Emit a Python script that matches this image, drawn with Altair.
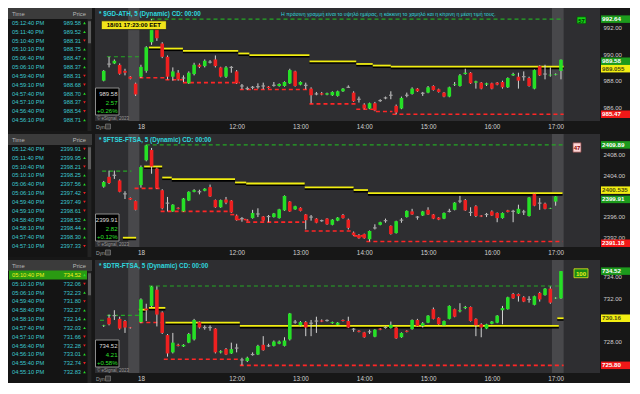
import altair as alt
import numpy as np
import pandas as pd

# ---------------- shared axis data ----------------
TICK_POS = [0, 18, 30, 42, 54, 66, 78]
TICK_LAB = ["18", "12:00", "13:00", "14:00", "15:00", "16:00", "17:00"]
X_DOMAIN = [-7.7, 85.4]
SHADE_START = [-2.4, 77.3]
SHADE_END = [-0.3, 79.5]

# ---------------- $GD-ATH ----------------
GD_IDX = [-7, -6, -5, -4, -3, -2, -1] + list(range(80))
GD_OPEN = [988.00, 989.25, 989.30, 989.19, 988.74, 988.30, 987.78,
           988.30, 988.74, 990.90, 992.00, 990.80, 989.80, 988.30, 988.60, 988.20, 987.80,
           988.50, 989.20, 989.10, 989.40, 989.60, 989.00, 988.30, 989.00, 988.70, 987.60,
           987.40, 987.50, 987.55, 987.60, 987.55, 987.65, 987.60, 987.60, 987.80, 988.70,
           987.70, 987.65, 987.40, 987.00, 987.05, 986.95, 986.90, 986.85, 987.20, 987.50,
           987.10, 986.60, 986.20, 985.90, 986.30, 986.50, 986.70, 986.90, 986.10, 985.90,
           986.90, 987.00, 987.40, 987.05, 987.10, 987.60, 987.35, 987.10, 986.80, 987.70,
           987.60, 988.50, 988.60, 987.85, 987.85, 987.70, 987.80, 987.85, 987.90, 987.50,
           988.40, 988.30, 988.30, 988.20, 987.40, 989.10, 988.50, 988.40, 988.45, 988.74]
GD_HIGH = [988.80, 989.80, 989.60, 989.30, 988.90, 988.35, 987.85,
           989.20, 990.60, 992.64, 992.40, 990.90, 989.90, 989.00, 988.80, 988.40, 988.70,
           989.35, 989.30, 989.60, 989.55, 989.90, 989.05, 989.10, 989.10, 988.80, 987.75,
           987.55, 987.60, 987.80, 987.85, 987.60, 987.90, 987.80, 987.95, 988.90, 988.75,
           987.95, 987.85, 987.50, 987.15, 987.15, 987.10, 987.20, 987.25, 987.45, 987.65,
           987.20, 986.80, 986.30, 986.35, 986.40, 986.60, 986.80, 987.20, 986.20, 986.80,
           987.10, 987.50, 987.45, 987.15, 987.60, 987.65, 987.40, 987.15, 987.55, 987.90,
           988.50, 988.90, 988.65, 988.00, 987.90, 987.85, 987.85, 987.90, 988.00, 988.25,
           988.60, 988.60, 988.70, 988.30, 988.85, 989.15, 989.20, 989.00, 988.55, 989.60]
GD_LOW = [987.95, 989.00, 989.25, 988.45, 988.40, 988.10, 986.85,
          988.20, 988.60, 990.70, 991.00, 989.70, 988.10, 988.00, 988.00, 987.90, 987.75,
          988.40, 988.95, 989.00, 989.30, 989.00, 988.25, 988.20, 988.60, 987.75, 987.35,
          987.30, 987.35, 987.40, 987.35, 987.40, 987.55, 987.55, 987.55, 987.75, 987.55,
          987.65, 987.35, 986.30, 986.90, 986.90, 986.90, 986.85, 986.80, 987.15, 987.45,
          986.40, 986.35, 985.85, 985.85, 985.70, 986.40, 986.60, 986.60, 985.47, 985.85,
          986.75, 986.95, 987.15, 986.85, 987.05, 987.25, 987.10, 986.75, 986.75, 987.60,
          987.55, 988.45, 987.75, 987.40, 987.35, 987.60, 987.35, 987.65, 987.40, 987.45,
          988.35, 987.40, 988.00, 987.55, 987.35, 988.35, 988.10, 988.30, 988.40, 988.10]
GD_CLOSE = [988.74, 989.25, 989.50, 988.52, 988.60, 988.15, 986.96,
            989.04, 990.52, 992.10, 991.20, 989.80, 988.30, 988.70, 988.10, 988.20, 988.60,
            989.20, 989.05, 989.50, 989.40, 989.10, 988.30, 989.00, 989.00, 987.80, 987.60,
            987.40, 987.50, 987.55, 987.60, 987.45, 987.65, 987.75, 987.90, 988.80, 987.60,
            987.90, 987.65, 986.90, 987.00, 986.95, 987.05, 987.15, 987.20, 987.40, 987.50,
            986.45, 986.60, 985.90, 986.30, 985.75, 986.50, 986.70, 986.90, 985.60, 986.70,
            986.90, 987.40, 987.20, 987.05, 987.50, 987.30, 987.15, 986.80, 987.50, 987.75,
            988.40, 988.60, 987.80, 987.95, 987.40, 987.80, 987.40, 987.70, 987.50, 988.20,
            988.50, 988.00, 988.30, 987.60, 988.80, 988.40, 988.50, 988.45, 988.50, 989.58]
GD_HI_S = [-6.4, 1.8]
GD_HI_E = [-0.3, 79.5]
GD_HI_V = [989.80, 992.64]
GD_LO_S = [-0.3, 4.6, 7.9, 18.6, 31.7, 40.5, 44.2, 47.3]
GD_LO_E = [4.6, 7.9, 18.6, 31.7, 40.5, 44.2, 47.3, 79.5]
GD_LO_V = [988.22, 988.07, 987.85, 987.33, 986.25, 985.85, 985.68, 985.47]
GD_AV_S = [1.5, 4.0, 7.9, 18.3, 20.4, 31.7, 40.5, 43.6, 47.0]
GD_AV_E = [4.0, 7.9, 18.3, 20.4, 31.7, 40.5, 43.6, 47.0, 79.5]
GD_AV_V = [990.50, 990.42, 990.25, 990.05, 989.93, 989.46, 989.26, 989.14, 989.055]
GD_YDOM = [984.96, 993.48]
GD_YTICKS = [986, 988, 990, 992]
GD_MARK_V = [992.64, 989.58, 989.055, 985.47]
GD_MARK_L = ["992.64", "989.58", "989.055", "985.47"]
GD_MARK_K = ["high", "last", "avg", "low"]
GD_INFO = ["989.58", "2.57", "+0.26%"]

# ---------------- $FTSE-FTSA ----------------
FT_IDX = [-7, -6, -5, -4, -3, -2, -1] + list(range(79))
FT_OPEN = [2401.8, 2403.7, 2404.0, 2403.0, 2400.4, 2399.6, 2399.0,
           2402.1, 2406.9, 2408.9, 2405.3, 2401.1, 2398.6, 2397.0, 2397.7, 2397.0, 2399.1,
           2400.8, 2400.8, 2401.0, 2401.7, 2399.2, 2397.8, 2399.3, 2399.1, 2396.2, 2395.6,
           2395.4, 2395.7, 2396.5, 2396.0, 2396.0, 2395.9, 2395.7, 2397.2, 2398.9, 2397.4,
           2397.7, 2396.4, 2395.9, 2395.6, 2395.2, 2395.6, 2394.4, 2395.2, 2396.3, 2395.4,
           2392.9, 2392.4, 2392.6, 2391.6, 2393.8, 2394.4, 2395.2, 2394.2, 2392.8, 2395.3,
           2395.9, 2397.0, 2395.9, 2396.2, 2397.3, 2396.4, 2395.8, 2395.6, 2397.0, 2397.3,
           2399.0, 2399.2, 2396.8, 2398.0, 2396.2, 2396.4, 2397.0, 2396.7, 2395.7, 2397.2,
           2397.0, 2396.6, 2396.9, 2396.1, 2400.4, 2398.6, 2398.5, 2397.55, 2398.9]
FT_HIGH = [2402.9, 2404.9, 2404.9, 2403.2, 2400.9, 2399.7, 2399.1,
           2405.9, 2409.89, 2409.3, 2405.5, 2401.3, 2399.8, 2398.4, 2397.8, 2399.6, 2400.9,
           2401.3, 2401.2, 2401.5, 2402.2, 2399.3, 2399.3, 2399.8, 2399.2, 2396.4, 2395.9,
           2395.5, 2397.3, 2397.6, 2396.1, 2396.3, 2396.7, 2397.5, 2400.1, 2399.0, 2398.1,
           2397.8, 2396.5, 2396.3, 2395.7, 2395.4, 2395.7, 2395.5, 2395.9, 2396.5, 2395.6,
           2393.1, 2392.6, 2392.7, 2393.3, 2394.5, 2395.0, 2395.6, 2394.3, 2395.2, 2395.7,
           2397.2, 2397.5, 2396.1, 2397.1, 2397.8, 2396.5, 2395.9, 2396.8, 2397.5, 2398.8,
           2400.0, 2399.4, 2397.8, 2398.2, 2396.3, 2396.7, 2397.2, 2396.8, 2396.8, 2397.3,
           2397.3, 2398.3, 2397.3, 2399.8, 2400.5, 2399.6, 2398.7, 2397.7, 2399.95]
FT_LOW = [2401.6, 2402.3, 2403.3, 2400.7, 2399.4, 2399.2, 2397.2,
          2401.6, 2406.7, 2404.3, 2401.4, 2397.4, 2397.0, 2396.9, 2397.4, 2396.9, 2399.0,
          2400.7, 2400.3, 2400.9, 2399.8, 2397.7, 2397.7, 2398.4, 2396.7, 2395.2, 2395.0,
          2395.1, 2395.6, 2395.9, 2395.1, 2394.9, 2395.8, 2395.6, 2397.1, 2396.9, 2397.3,
          2397.0, 2393.5, 2395.2, 2394.7, 2395.0, 2394.4, 2394.3, 2395.1, 2395.6, 2393.5,
          2392.3, 2391.7, 2391.7, 2391.18, 2393.5, 2394.3, 2394.8, 2392.5, 2392.7, 2394.8,
          2395.8, 2396.3, 2395.4, 2396.1, 2396.3, 2395.5, 2395.3, 2395.5, 2396.8, 2397.2,
          2398.6, 2397.1, 2396.1, 2395.9, 2395.9, 2395.9, 2396.1, 2394.9, 2395.6, 2396.8,
          2394.9, 2396.5, 2396.3, 2396.0, 2398.0, 2397.3, 2397.4, 2397.5, 2398.1]
FT_CLOSE = [2402.7, 2402.5, 2404.0, 2400.8, 2400.4, 2399.3, 2397.3,
            2405.6, 2409.8, 2405.7, 2401.5, 2397.6, 2398.6, 2398.3, 2397.5, 2399.5, 2400.8,
            2401.1, 2400.8, 2401.4, 2399.9, 2397.8, 2399.2, 2398.7, 2396.8, 2395.3, 2395.6,
            2395.2, 2396.7, 2396.5, 2395.2, 2396.0, 2396.6, 2397.4, 2400.0, 2397.0, 2398.0,
            2397.1, 2395.3, 2395.9, 2394.8, 2395.2, 2394.5, 2395.4, 2395.8, 2395.7, 2393.8,
            2392.4, 2391.8, 2391.8, 2393.2, 2393.8, 2394.9, 2395.2, 2392.6, 2395.1, 2395.3,
            2397.1, 2396.4, 2395.9, 2397.0, 2396.4, 2395.6, 2395.4, 2396.7, 2397.0, 2398.7,
            2399.0, 2397.2, 2396.8, 2396.1, 2396.0, 2396.4, 2396.2, 2395.7, 2396.7, 2396.9,
            2397.0, 2397.5, 2396.9, 2399.7, 2398.1, 2398.6, 2397.5, 2397.65, 2399.91]
FT_HI_S = [-7.3, 0.9]
FT_HI_E = [-1.8, 79.3]
FT_HI_V = [2404.8, 2409.89]
FT_LO_S = [-1.2, 3.7, 16.8, 18.0, 19.8, 30.8, 40.0, 42.4]
FT_LO_E = [3.7, 16.8, 18.0, 19.8, 30.8, 40.0, 42.4, 79.3]
FT_LO_V = [2401.46, 2397.0, 2396.38, 2395.43, 2394.92, 2393.2, 2392.25, 2391.18]
FT_AV_S = [-3.4, 0.6, 4.0, 5.8, 17.7, 19.8, 30.8, 40.0, 42.7]
FT_AV_E = [-0.9, 4.0, 5.8, 17.7, 19.8, 30.8, 40.0, 42.7, 79.3]
FT_AV_V = [2391.9, 2405.7, 2403.56, 2403.24, 2402.6, 2402.41, 2401.65, 2401.14, 2400.535]
FT_YDOM = [2390.1, 2412.0]
FT_YTICKS = [2392, 2396, 2404, 2408]
FT_MARK_V = [2409.89, 2400.535, 2399.91, 2391.18]
FT_MARK_L = ["2409.89", "2400.535", "2399.91", "2391.18"]
FT_MARK_K = ["high", "avg", "last", "low"]
FT_INFO = ["2399.91", "2.82", "+0.12%"]

# ---------------- $DTR-FTSA ----------------
DT_IDX = [-7, -6, -5, -4, -3, -2] + list(range(80))
DT_OPEN = [729.45, 730.20, 730.40, 730.10, 729.90, 729.30,
           729.80, 731.05, 731.30, 732.80, 730.70, 728.60, 727.00, 727.70, 727.55, 727.90,
           728.20, 729.80, 729.30, 729.30, 729.20, 727.00, 727.30, 726.90, 727.40, 726.30,
           726.20, 726.80, 726.80, 727.70, 727.60, 727.60, 727.80, 727.60, 728.20, 729.80,
           729.50, 729.80, 729.70, 729.90, 729.95, 729.95, 729.70, 729.55, 730.00, 729.90,
           729.15, 729.00, 728.85, 728.90, 728.45, 729.20, 729.30, 729.25, 729.30, 728.40,
           729.00, 729.15, 730.00, 729.45, 729.75, 731.00, 730.20, 729.50, 730.10, 731.00,
           730.80, 731.10, 731.20, 730.10, 729.60, 729.20, 729.65, 729.75, 730.90, 731.00,
           732.40, 732.40, 732.10, 731.90, 731.40, 732.50, 732.30, 732.90, 732.00, 732.00]
DT_HIGH = [729.55, 730.50, 730.90, 730.30, 730.00, 729.35,
           732.00, 731.50, 733.15, 733.10, 730.80, 728.70, 728.80, 727.80, 727.75, 728.80,
           730.10, 729.85, 729.50, 729.50, 729.25, 727.20, 727.40, 727.90, 727.80, 726.50,
           726.60, 727.00, 727.70, 728.50, 727.80, 728.10, 728.10, 728.40, 730.65, 730.00,
           729.90, 729.90, 730.00, 730.30, 730.05, 730.05, 729.85, 729.80, 730.05, 730.30,
           729.25, 729.05, 728.90, 729.10, 729.15, 729.25, 729.40, 729.85, 729.35, 728.85,
           729.05, 730.05, 730.10, 729.80, 730.45, 731.15, 730.25, 729.95, 731.35, 731.05,
           731.55, 731.30, 731.25, 730.15, 729.70, 729.65, 729.90, 730.45, 731.30, 732.15,
           732.50, 732.45, 732.20, 732.20, 732.25, 732.60, 732.95, 733.10, 732.10, 734.52]
DT_LOW = [729.35, 729.50, 730.00, 729.10, 728.80, 729.20,
          729.70, 729.90, 731.20, 729.40, 728.70, 726.60, 726.90, 727.55, 727.50, 727.85,
          728.10, 729.20, 729.10, 729.00, 726.90, 726.90, 726.75, 726.85, 727.00, 725.80,
          726.10, 726.70, 726.75, 727.15, 727.50, 727.55, 727.75, 727.55, 728.10, 729.65,
          729.40, 728.50, 728.50, 728.80, 729.80, 729.85, 729.65, 729.50, 729.85, 729.25,
          728.90, 728.85, 728.35, 728.70, 728.40, 729.05, 729.20, 729.20, 728.25, 728.35,
          728.85, 729.10, 729.40, 729.30, 729.70, 730.05, 729.55, 729.45, 730.05, 730.25,
          730.70, 731.00, 729.85, 728.50, 728.40, 729.15, 729.60, 729.70, 729.60, 730.95,
          731.95, 731.70, 731.65, 731.60, 731.35, 731.70, 732.25, 731.50, 731.95, 731.95]
DT_CLOSE = [729.50, 729.60, 730.40, 729.20, 729.30, 729.25,
            731.90, 730.90, 733.10, 730.50, 728.80, 726.90, 727.90, 727.60, 727.70, 728.70,
            730.00, 729.30, 729.30, 729.30, 727.00, 727.10, 726.80, 727.30, 727.40, 726.30,
            726.50, 726.80, 727.60, 727.20, 727.60, 728.00, 728.00, 728.10, 730.60, 729.80,
            729.80, 729.30, 729.70, 729.90, 729.85, 729.95, 729.80, 729.75, 729.90, 729.30,
            729.15, 728.90, 728.40, 728.90, 729.10, 729.10, 729.30, 729.55, 728.30, 728.80,
            728.90, 730.00, 729.45, 729.70, 730.40, 730.10, 729.60, 729.90, 731.30, 730.30,
            730.90, 731.20, 729.90, 729.50, 729.30, 729.60, 729.85, 730.40, 731.10, 732.10,
            732.00, 732.20, 731.70, 731.90, 732.20, 731.90, 732.90, 731.60, 732.05, 734.52]
DT_HI_S = [-7.7, -6.4, 1.5]
DT_HI_E = [-6.4, -0.3, 78.6]
DT_HI_V = [729.97, 730.42, 733.15]
DT_LO_S = [-0.3, 4.3, 18.6]
DT_LO_E = [4.3, 18.6, 79.5]
DT_LO_V = [729.76, 726.36, 725.80]
DT_AV_S = [-0.4, 1.5, 4.6, 18.6, 78.3]
DT_AV_E = [0.9, 4.6, 18.6, 78.6, 79.5]
DT_AV_V = [730.95, 731.12, 729.76, 729.45, 730.16]
DT_YDOM = [725.09, 735.55]
DT_YTICKS = [728, 732, 734]
DT_MARK_V = [734.52, 730.16, 725.80]
DT_MARK_L = ["734.52", "730.16", "725.80"]
DT_MARK_K = ["high", "avg", "low"]
DT_INFO = ["734.52", "4.21", "+0.58%"]

# ---------------- time & sales tables ----------------
T1_TIME = ["05:12:40 PM", "05:11:40 PM", "05:10:40 PM", "05:10:10 PM", "05:06:40 PM", "05:06:10 PM",
           "04:59:40 PM", "04:59:10 PM", "04:57:40 PM", "04:57:10 PM", "04:56:40 PM", "04:56:10 PM"]
T1_PRICE = ["989.58", "989.52", "988.31", "988.75", "988.47", "988.37",
            "988.31", "988.68", "988.70", "988.37", "988.54", "988.71"]
T1_DIR = ["up", "up", "down", "up", "up", "up", "down", "down", "up", "down", "down", "up"]
T2_TIME = ["05:12:40 PM", "05:11:40 PM", "05:10:40 PM", "05:10:10 PM", "05:06:40 PM", "05:06:10 PM",
           "04:59:40 PM", "04:59:10 PM", "04:58:40 PM", "04:58:10 PM", "04:57:40 PM", "04:57:10 PM"]
T2_PRICE = ["2399.91", "2399.95", "2398.21", "2398.25", "2397.56", "2397.42",
            "2397.49", "2398.61", "2398.52", "2398.44", "2398.30", "2397.33"]
T2_DIR = ["down", "up", "down", "up", "up", "down", "down", "down", "up", "up", "up", "down"]
T3_TIME = ["05:10:40 PM", "05:10:10 PM", "05:06:10 PM", "04:59:40 PM", "04:58:40 PM", "04:58:10 PM",
           "04:57:40 PM", "04:57:10 PM", "04:56:40 PM", "04:56:10 PM", "04:55:40 PM", "04:55:10 PM"]
T3_PRICE = ["734.52", "732.06", "732.23", "731.80", "732.27", "732.14",
            "732.03", "731.66", "732.28", "733.01", "732.74", "732.83"]
T3_DIR = ["up", "down", "up", "down", "up", "up", "up", "down", "down", "up", "down", "up"]

TITLE_1 = "* $GD-ATH, 5 (Dynamic) CD: 00:00"
TITLE_2 = "* $FTSE-FTSA, 5 (Dynamic) CD: 00:00"
TITLE_3 = "* $DTR-FTSA, 5 (Dynamic) CD: 00:00"
NOTE = "Η πράσινη γραμμή είναι το υψηλό ημέρας, η κόκκινη το χαμηλό και η κίτρινη η μέση τιμή τους."
STAMP = "18/01 17:23:00 EET"
COPY = "© eSignal, 2023"

# ---------------- styling ----------------
FONT = "Liberation Sans, Arial, sans-serif"
CYAN = "#2fd6de"
TCYAN = "#3cc7cf"
UP = "#1d9224"
DOWN = "#e3151b"
FLAT = "#a0a0a0"
WICK = "#d4d4d4"
PLOT_BG = "#2e2e31"
SHADE = "#5e5e60"
BG = "#171717"
TBL_BG = "#141414"
YEL = "#f2ee12"
HIG = "#25a825"
LOR = "#ff2626"
MARK_FILL = {"high": "#1c9a1c", "last": "#1c9a1c", "avg": "#f2ee12", "low": "#f01818"}
MARK_TEXT = {"high": "#ffffff", "last": "#ffffff", "avg": "#4a4a10", "low": "#ffffff"}

W, H = 505, 113
TW, TH = 84, 123


def label_expr():
    e = "''"
    for p, s in reversed(list(zip(TICK_POS, TICK_LAB))):
        e = f"datum.value === {p} ? '{s}' : ({e})"
    return e


def txt(t, x, y, size, color, align="left", weight="normal"):
    return alt.Chart(pd.DataFrame({"t": [t]})).mark_text(
        align=align, baseline="middle", font=FONT, fontSize=size,
        fontWeight=weight, color=color).encode(
        x=alt.value(x), y=alt.value(y), text="t:N")


def box(x0, x1, y0, y1, fill, stroke, sw=1):
    return alt.Chart(pd.DataFrame({"a": [0]})).mark_rect(
        fill=fill, stroke=stroke, strokeWidth=sw).encode(
        x=alt.value(x0), x2=alt.value(x1), y=alt.value(y0), y2=alt.value(y1))


def panel(title, idx, o, h, l, c, hi, lo, av, ydom, yticks, marks, info, badge, extras):
    xs = alt.Scale(domain=X_DOMAIN, nice=False, zero=False)
    ys = alt.Scale(domain=ydom, nice=False, zero=False)
    xax = alt.Axis(values=TICK_POS, labelExpr=label_expr(), title=None, domain=False,
                   ticks=False, tickSize=0, grid=False, labelColor="#d0d0d0", labelFont=FONT,
                   labelFontSize=6.3, labelPadding=2.5, labelFlush=False, labelOverlap=False)
    yax = alt.Axis(orient="right", values=yticks, format=".2f", title=None, domain=False,
                   ticks=False, tickSize=0, grid=False, labelColor="#d0d0d0", labelFont=FONT,
                   labelFontSize=6, labelPadding=3, labelFlush=False, labelOverlap=False)

    def X(f):
        return alt.X(f, type="quantitative", scale=xs, axis=xax)

    def Y(f):
        return alt.Y(f, type="quantitative", scale=ys, axis=yax)

    cdf = pd.DataFrame({"i": idx, "o": o, "h": h, "l": l, "c": c})
    cdf["d"] = np.where(cdf.c > cdf.o, "up", np.where(cdf.c < cdf.o, "down", "flat"))
    shade = pd.DataFrame({"s": SHADE_START, "e": SHADE_END})
    hdf = pd.DataFrame({"s": hi[0], "e": hi[1], "v": hi[2]})
    ldf = pd.DataFrame({"s": lo[0], "e": lo[1], "v": lo[2]})
    adf = pd.DataFrame({"s": av[0], "e": av[1], "v": av[2]})

    layers = [
        alt.Chart(shade).mark_rect(color=SHADE, opacity=0.55).encode(x=X("s"), x2="e"),
        alt.Chart(hdf).mark_rule(color=HIG, strokeDash=[4, 3], strokeWidth=1.1).encode(
            x=X("s"), x2="e", y=Y("v")),
        alt.Chart(ldf).mark_rule(color=LOR, strokeDash=[4, 3], strokeWidth=1.6).encode(
            x=X("s"), x2="e", y=Y("v")),
        alt.Chart(adf).mark_rule(color="#000000", strokeWidth=3, yOffset=1).encode(
            x=X("s"), x2="e", y=Y("v")),
        alt.Chart(adf).mark_rule(color=YEL, strokeWidth=1.8).encode(
            x=X("s"), x2="e", y=Y("v")),
        alt.Chart(cdf).mark_rule(color=WICK, strokeWidth=1).encode(
            x=X("i"), y=Y("l"), y2="h"),
        alt.Chart(cdf).mark_bar(size=3.6).encode(
            x=X("i"), y=Y("o"), y2="c",
            color=alt.Color("d:N", scale=alt.Scale(domain=["up", "down", "flat"],
                                                   range=[UP, DOWN, FLAT]), legend=None)),
        alt.Chart(cdf).transform_filter("datum.d == 'flat'").mark_tick(
            orient="horizontal", size=3.6, thickness=1.2, color=FLAT, opacity=1).encode(
            x=X("i"), y=Y("c")),
    ]
    # price markers on the right
    for v, lab, k, off in marks:
        mdf = pd.DataFrame({"v": [v], "t": [lab]})
        layers.append(alt.Chart(mdf).mark_tick(
            orient="horizontal", size=29, thickness=7.5, color=MARK_FILL[k], opacity=1,
            yOffset=off).encode(x=alt.value(W + 15.5), y=Y("v")))
        layers.append(alt.Chart(mdf).mark_text(
            align="left", baseline="middle", font=FONT, fontSize=6.2, fontWeight="bold",
            color=MARK_TEXT[k], yOffset=off).encode(x=alt.value(W + 2), y=Y("v"), text="t:N"))

    # annotations
    layers.append(txt(title, 4, 5.5, 6.3, CYAN, weight="bold"))
    layers.append(box(0.5, 24, 80, 107, "#000000", "#8c8c8c"))
    layers.append(txt(info[0], 22.5, 86, 6, "#dedede", align="right"))
    layers.append(txt(info[1], 22.5, 94.5, 6, "#2fe02f", align="right"))
    layers.append(txt(info[2], 22.5, 103, 6, "#2fe02f", align="right"))
    layers.append(txt(COPY, 2, 110.5, 4.5, "#9a9a9a"))
    layers.append(txt("Dyn", 1, H + 5.5, 5, "#a0a0a0"))
    layers.append(box(10.5, 15.5, H + 3, H + 8, "#3a3a3a", "#8a8a8a", 0.6))
    bt, bfill, bstroke, bcol, bx0, bx1, by0, by1 = badge
    layers.append(box(bx0, bx1, by0, by1, bfill, bstroke, 0.8))
    layers.append(txt(bt, (bx0 + bx1) / 2, (by0 + by1) / 2 + 0.3, 6, bcol, align="center",
                      weight="bold"))
    layers.extend(extras)
    return alt.layer(*layers).properties(width=W, height=H,
                                         view=alt.ViewBackground(fill=PLOT_BG))


def table(times, prices, dirs, highlight):
    ysc = alt.Scale(domain=[-1.7, 12.24], nice=False, zero=False, reverse=True)

    def Yr(f):
        return alt.Y(f, type="quantitative", scale=ysc, axis=None)

    df = pd.DataFrame({"r": list(range(len(times))), "t": times, "p": prices, "d": dirs})
    hdr = pd.DataFrame({"a": [-1.7], "b": [-0.45], "m": [-1.05]})
    track = pd.DataFrame({"a": [-0.45], "b": [12.24]})
    thumb = pd.DataFrame({"a": [-0.2], "b": [2.3]})
    layers = [
        alt.Chart(hdr).mark_rect(color="#3b3b3b").encode(
            x=alt.value(0), x2=alt.value(TW), y=Yr("a"), y2="b"),
        alt.Chart(track).mark_rect(color="#232323").encode(
            x=alt.value(TW - 4.5), x2=alt.value(TW - 0.5), y=Yr("a"), y2="b"),
        alt.Chart(thumb).mark_rect(color="#5c5c5c").encode(
            x=alt.value(TW - 4), x2=alt.value(TW - 1), y=Yr("a"), y2="b"),
        alt.Chart(hdr).mark_text(text="Time", align="left", baseline="middle", font=FONT,
                                 fontSize=5.8, color="#b8b8b8").encode(x=alt.value(4), y=Yr("m")),
        alt.Chart(hdr).mark_text(text="Price", align="right", baseline="middle", font=FONT,
                                 fontSize=5.8, color="#b8b8b8").encode(x=alt.value(TW - 6), y=Yr("m")),
    ]
    if highlight:
        hl = pd.DataFrame({"a": [-0.5], "b": [0.5]})
        layers.append(alt.Chart(hl).mark_rect(color="#2a9a12").encode(
            x=alt.value(1), x2=alt.value(TW - 5), y=Yr("a"), y2="b"))
        tcolor = alt.when("datum.r == 0").then(alt.value("#f4ef1a")).otherwise(alt.value(TCYAN))
    else:
        tcolor = alt.value(TCYAN)
    layers += [
        alt.Chart(df).mark_text(align="left", baseline="middle", font=FONT, fontSize=5.7).encode(
            x=alt.value(4), y=Yr("r"), text="t:N", color=tcolor),
        alt.Chart(df).mark_text(align="right", baseline="middle", font=FONT, fontSize=5.7).encode(
            x=alt.value(TW - 11), y=Yr("r"), text="p:N", color=tcolor),
        alt.Chart(df).mark_point(filled=True, opacity=1, size=7, strokeWidth=0).encode(
            x=alt.value(TW - 7.5), y=Yr("r"),
            shape=alt.Shape("d:N", scale=alt.Scale(domain=["up", "down"],
                                                   range=["triangle-up", "triangle-down"]), legend=None),
            color=alt.Color("d:N", scale=alt.Scale(domain=["up", "down"],
                                                   range=["#26e026", "#ee2020"]), legend=None)),
    ]
    return alt.layer(*layers).properties(width=TW, height=TH, view=alt.ViewBackground(fill=TBL_BG))


extras1 = [
    txt(NOTE, 186, 5.5, 5.2, CYAN),
    box(6.3, 71.4, 12.8, 21.6, "#f1e41a", "#222222", 0.8),
    txt(STAMP, 38.8, 17.4, 6, "#000000", align="center", weight="bold"),
]

p1 = panel(TITLE_1, GD_IDX, GD_OPEN, GD_HIGH, GD_LOW, GD_CLOSE,
           (GD_HI_S, GD_HI_E, GD_HI_V), (GD_LO_S, GD_LO_E, GD_LO_V), (GD_AV_S, GD_AV_E, GD_AV_V),
           GD_YDOM, GD_YTICKS,
           list(zip(GD_MARK_V, GD_MARK_L, GD_MARK_K, [0, 1.5, 2, 0])), GD_INFO,
           ("57", "#14d414", "#0a4a0a", "#053005", 482, 491, 8.8, 15.7), extras1)
p2 = panel(TITLE_2, FT_IDX, FT_OPEN, FT_HIGH, FT_LOW, FT_CLOSE,
           (FT_HI_S, FT_HI_E, FT_HI_V), (FT_LO_S, FT_LO_E, FT_LO_V), (FT_AV_S, FT_AV_E, FT_AV_V),
           FT_YDOM, FT_YTICKS,
           list(zip(FT_MARK_V, FT_MARK_L, FT_MARK_K, [0, -3, 3, 1.8])), FT_INFO,
           ("47", "#ffd6d6", "#884444", "#8a0000", 478, 486, 8.8, 18.2), [])
p3 = panel(TITLE_3, DT_IDX, DT_OPEN, DT_HIGH, DT_LOW, DT_CLOSE,
           (DT_HI_S, DT_HI_E, DT_HI_V), (DT_LO_S, DT_LO_E, DT_LO_V), (DT_AV_S, DT_AV_E, DT_AV_V),
           DT_YDOM, DT_YTICKS,
           list(zip(DT_MARK_V, DT_MARK_L, DT_MARK_K, [0, 0, 0])), DT_INFO,
           ("100", "#1a8a14", "#e6e61a", "#f2f21a", 479, 493, 8.8, 17.7), [])

t1 = table(T1_TIME, T1_PRICE, T1_DIR, False)
t2 = table(T2_TIME, T2_PRICE, T2_DIR, False)
t3 = table(T3_TIME, T3_PRICE, T3_DIR, True)

chart = alt.vconcat(
    alt.hconcat(t1, p1, spacing=3),
    alt.hconcat(t2, p2, spacing=3),
    alt.hconcat(t3, p3, spacing=3),
    spacing=3,
).properties(background=BG, padding=0).configure_view(strokeWidth=0)

chart.save("out.html", embed_options={"renderer": "svg", "actions": False})
